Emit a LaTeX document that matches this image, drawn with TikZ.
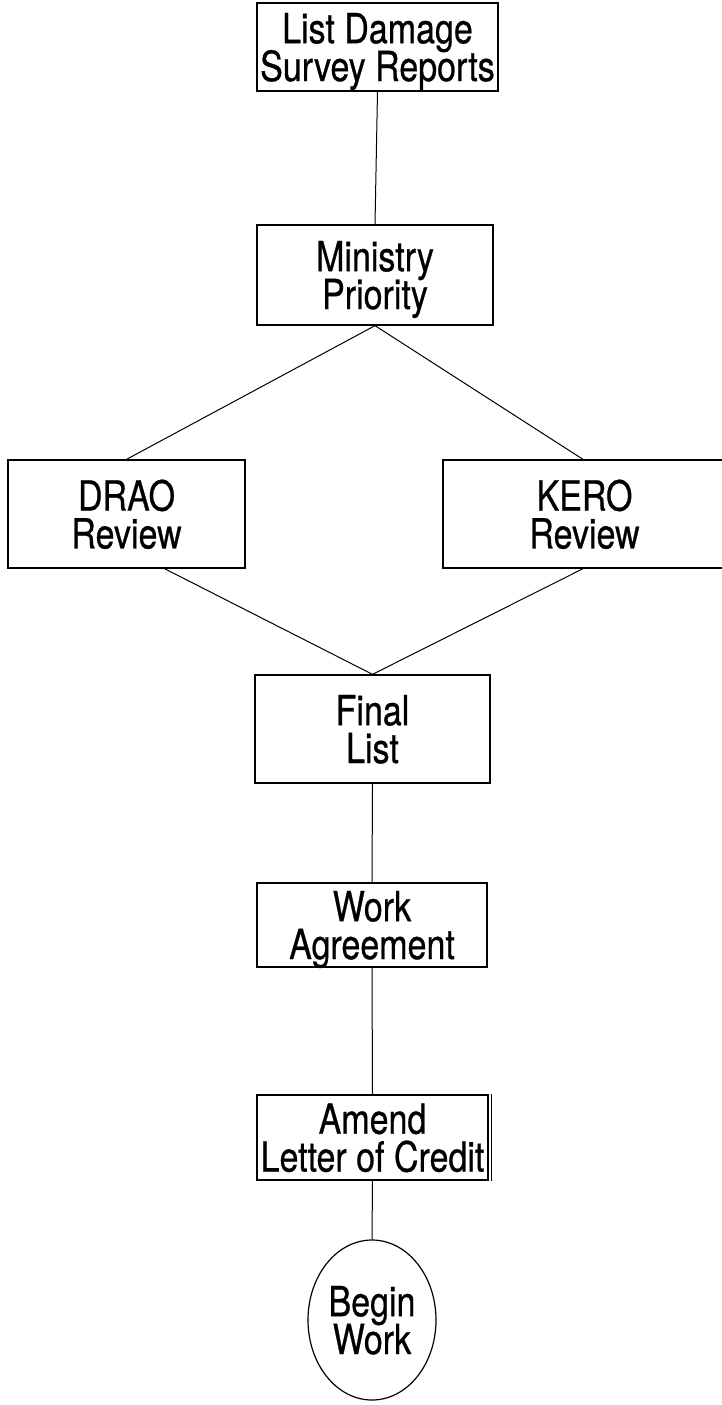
\documentclass[tikz,border=0pt]{standalone}
\usepackage{fontspec}
\usepackage{graphicx}
\setmainfont{TeX Gyre Heros}[FakeBold=0.7]
\usetikzlibrary{shapes.geometric}
\newcommand{\tx}[1]{\scalebox{1}[1.22]{\vbox{\baselineskip=31pt\lineskiplimit=-100pt\halign{\hfil##\hfil\cr#1\crcr}}}}
\begin{document}
\begin{tikzpicture}[x=1pt,y=-1pt,
  box/.style={draw, line width=1.3pt, rectangle, inner sep=0pt, text depth=0pt,
    font=\fontsize{34}{31}\selectfont},
  oval/.style={draw, line width=1.2pt, ellipse, inner sep=0pt, text depth=0pt,
    font=\fontsize{34}{31}\selectfont},
  link/.style={line width=1pt}]
\useasboundingbox (0,0) rectangle (722,1405);
\node[box, minimum width=241pt, minimum height=88pt] (list) at (377.5,47) {\tx{List Damage\cr Survey Reports}};
\node[box, minimum width=236pt, minimum height=100pt] (min) at (375,275) {\tx{Ministry\cr Priority}};
\node[box, minimum width=237pt, minimum height=108pt] (drao) at (126.5,514) {\tx{DRAO\cr Review}};
\node[box, minimum width=283pt, minimum height=108pt] (kero) at (584.5,514) {\tx{KERO\cr Review}};
\node[box, minimum width=235pt, minimum height=108pt] (final) at (372.5,729) {\tx{Final\cr List}};
\node[box, minimum width=230pt, minimum height=84pt] (work) at (372,925) {\tx{Work\cr Agreement}};
\node[box, minimum width=231pt, minimum height=85pt] (amend) at (372.5,1137.5) {\tx{Amend\cr Letter of Credit}};
\node[oval, minimum width=128pt, minimum height=160pt] (begin) at (372,1320) {\tx{Begin\cr Work}};
\draw[line width=0.8pt] ([xshift=3pt]amend.north east) -- ([xshift=3pt]amend.south east);
\coordinate (join) at (final.north);
\draw[link] (list.south) -- (min.north);
\draw[link] (min.south) -- (drao.north);
\draw[link] (min.south) -- ([xshift=-1.5pt]kero.north);
\draw[link] ([xshift=38pt]drao.south) -- (join);
\draw[link] ([xshift=-1.5pt]kero.south) -- (join);
\draw[link] (final.south) -- (work.north);
\draw[link] (work.south) -- (amend.north);
\draw[link] (amend.south) -- (begin.north);
\end{tikzpicture}
\end{document}
